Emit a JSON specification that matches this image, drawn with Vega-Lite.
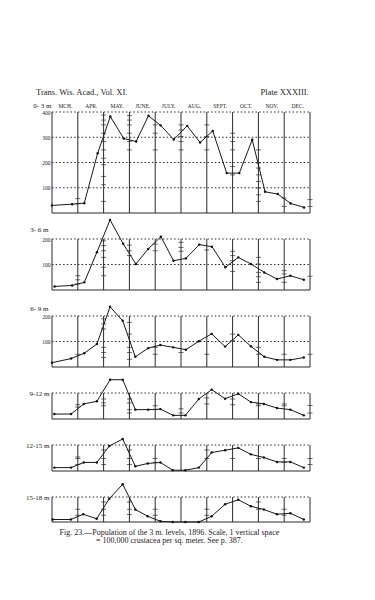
{
  "$schema": "https://vega.github.io/schema/vega-lite/v6.json",
  "background": "white",
  "padding": {"left": 25, "top": 88, "right": 5, "bottom": 5},
  "bounds": "flush",
  "spacing": 26,
  "config": {
    "view": {"stroke": null},
    "font": "Liberation Serif",
    "axis": {"labelFont": "Liberation Serif", "titleFont": "Liberation Serif", "labelColor": "#222", "titleColor": "#222", "domain": false, "ticks": false, "grid": false, "labelFlush": false},
    "axisY": {"labelFontSize": 5.5, "labelPadding": 2, "labelBaseline": "middle", "titleAngle": 0, "titleAlign": "right", "titleBaseline": "middle", "titleFontSize": 7, "titleFontWeight": "normal"},
    "axisX": {"labelFontSize": 5.5, "labelPadding": 4}
  },
  "resolve": {"scale": {"x": "independent", "y": "independent"}},
  "datasets": {
    "months": [{"m":0},{"m":1},{"m":2},{"m":3},{"m":4},{"m":5},{"m":6},{"m":7},{"m":8},{"m":9},{"m":10}],
    "levels": [
      {"depth":"0-3","level":0},{"depth":"0-3","level":100},{"depth":"0-3","level":200},{"depth":"0-3","level":300},{"depth":"0-3","level":400},
      {"depth":"3-6","level":0},{"depth":"3-6","level":100},{"depth":"3-6","level":200},
      {"depth":"6-9","level":0},{"depth":"6-9","level":100},{"depth":"6-9","level":200},
      {"depth":"9-12","level":0},{"depth":"9-12","level":100},
      {"depth":"12-15","level":0},{"depth":"12-15","level":100},
      {"depth":"15-18","level":0},{"depth":"15-18","level":100}
    ],
    "pop": [
      {"depth":"0-3","m":0,"v":30},{"depth":"0-3","m":0.78,"v":35},{"depth":"0-3","m":1.25,"v":39},{"depth":"0-3","m":1.77,"v":237},{"depth":"0-3","m":2.26,"v":382},{"depth":"0-3","m":2.78,"v":295},{"depth":"0-3","m":3.26,"v":283},{"depth":"0-3","m":3.74,"v":385},{"depth":"0-3","m":4.21,"v":347},{"depth":"0-3","m":4.72,"v":291},{"depth":"0-3","m":5.24,"v":345},{"depth":"0-3","m":5.74,"v":279},{"depth":"0-3","m":6.23,"v":325},{"depth":"0-3","m":6.77,"v":158},{"depth":"0-3","m":7.26,"v":158},{"depth":"0-3","m":7.76,"v":290},{"depth":"0-3","m":8.26,"v":84},{"depth":"0-3","m":8.75,"v":75},{"depth":"0-3","m":9.25,"v":38},{"depth":"0-3","m":9.77,"v":22},
      {"depth":"3-6","m":0.1,"v":14},{"depth":"3-6","m":0.78,"v":18},{"depth":"3-6","m":1.25,"v":30},{"depth":"3-6","m":1.74,"v":148},{"depth":"3-6","m":2.25,"v":275},{"depth":"3-6","m":2.76,"v":181},{"depth":"3-6","m":3.25,"v":102},{"depth":"3-6","m":3.73,"v":161},{"depth":"3-6","m":4.22,"v":209},{"depth":"3-6","m":4.71,"v":115},{"depth":"3-6","m":5.19,"v":124},{"depth":"3-6","m":5.71,"v":178},{"depth":"3-6","m":6.2,"v":170},{"depth":"3-6","m":6.72,"v":89},{"depth":"3-6","m":7.22,"v":128},{"depth":"3-6","m":7.71,"v":102},{"depth":"3-6","m":8.23,"v":69},{"depth":"3-6","m":8.72,"v":43},{"depth":"3-6","m":9.24,"v":56},{"depth":"3-6","m":9.76,"v":40},
      {"depth":"6-9","m":0,"v":17},{"depth":"6-9","m":0.74,"v":33},{"depth":"6-9","m":1.25,"v":54},{"depth":"6-9","m":1.74,"v":90},{"depth":"6-9","m":2.25,"v":236},{"depth":"6-9","m":2.74,"v":181},{"depth":"6-9","m":3.23,"v":40},{"depth":"6-9","m":3.73,"v":74},{"depth":"6-9","m":4.2,"v":86},{"depth":"6-9","m":4.7,"v":77},{"depth":"6-9","m":5.19,"v":68},{"depth":"6-9","m":5.69,"v":101},{"depth":"6-9","m":6.19,"v":130},{"depth":"6-9","m":6.71,"v":80},{"depth":"6-9","m":7.22,"v":126},{"depth":"6-9","m":7.71,"v":81},{"depth":"6-9","m":8.23,"v":40},{"depth":"6-9","m":8.72,"v":28},{"depth":"6-9","m":9.24,"v":28},{"depth":"6-9","m":9.76,"v":37},
      {"depth":"9-12","m":0.09,"v":19},{"depth":"9-12","m":0.74,"v":19},{"depth":"9-12","m":1.23,"v":58},{"depth":"9-12","m":1.74,"v":68},{"depth":"9-12","m":2.25,"v":151},{"depth":"9-12","m":2.74,"v":151},{"depth":"9-12","m":3.23,"v":36},{"depth":"9-12","m":3.73,"v":36},{"depth":"9-12","m":4.2,"v":38},{"depth":"9-12","m":4.7,"v":14},{"depth":"9-12","m":5.17,"v":14},{"depth":"9-12","m":5.69,"v":77},{"depth":"9-12","m":6.19,"v":113},{"depth":"9-12","m":6.71,"v":78},{"depth":"9-12","m":7.22,"v":97},{"depth":"9-12","m":7.71,"v":65},{"depth":"9-12","m":8.21,"v":58},{"depth":"9-12","m":8.72,"v":42},{"depth":"9-12","m":9.24,"v":36},{"depth":"9-12","m":9.76,"v":14},
      {"depth":"12-15","m":0.09,"v":13},{"depth":"12-15","m":0.74,"v":13},{"depth":"12-15","m":1.23,"v":33},{"depth":"12-15","m":1.74,"v":33},{"depth":"12-15","m":2.22,"v":96},{"depth":"12-15","m":2.74,"v":123},{"depth":"12-15","m":3.23,"v":18},{"depth":"12-15","m":3.71,"v":29},{"depth":"12-15","m":4.2,"v":33},{"depth":"12-15","m":4.68,"v":3},{"depth":"12-15","m":5.17,"v":3},{"depth":"12-15","m":5.69,"v":13},{"depth":"12-15","m":6.19,"v":71},{"depth":"12-15","m":6.71,"v":80},{"depth":"12-15","m":7.22,"v":89},{"depth":"12-15","m":7.71,"v":64},{"depth":"12-15","m":8.21,"v":52},{"depth":"12-15","m":8.72,"v":35},{"depth":"12-15","m":9.24,"v":35},{"depth":"12-15","m":9.76,"v":13},
      {"depth":"15-18","m":0.03,"v":10},{"depth":"15-18","m":0.73,"v":10},{"depth":"15-18","m":1.21,"v":31},{"depth":"15-18","m":1.73,"v":13},{"depth":"15-18","m":2.22,"v":93},{"depth":"15-18","m":2.74,"v":151},{"depth":"15-18","m":3.23,"v":50},{"depth":"15-18","m":3.71,"v":23},{"depth":"15-18","m":4.2,"v":3},{"depth":"15-18","m":4.68,"v":0},{"depth":"15-18","m":5.17,"v":0},{"depth":"15-18","m":5.69,"v":0},{"depth":"15-18","m":6.19,"v":23},{"depth":"15-18","m":6.71,"v":71},{"depth":"15-18","m":7.22,"v":89},{"depth":"15-18","m":7.71,"v":63},{"depth":"15-18","m":8.21,"v":50},{"depth":"15-18","m":8.72,"v":31},{"depth":"15-18","m":9.24,"v":35},{"depth":"15-18","m":9.76,"v":10}
    ],
    "ticks": [
      {"depth":"0-3","m":1,"v":57},{"depth":"0-3","m":1,"v":37},
      {"depth":"0-3","m":2,"v":388},{"depth":"0-3","m":2,"v":368},{"depth":"0-3","m":2,"v":349},{"depth":"0-3","m":2,"v":316},{"depth":"0-3","m":2,"v":283},{"depth":"0-3","m":2,"v":250},{"depth":"0-3","m":2,"v":217},{"depth":"0-3","m":2,"v":191},{"depth":"0-3","m":2,"v":145},{"depth":"0-3","m":2,"v":112},{"depth":"0-3","m":2,"v":46},
      {"depth":"0-3","m":3,"v":386},{"depth":"0-3","m":3,"v":368},{"depth":"0-3","m":3,"v":349},{"depth":"0-3","m":3,"v":316},{"depth":"0-3","m":3,"v":283},{"depth":"0-3","m":3,"v":250},
      {"depth":"0-3","m":4,"v":349},{"depth":"0-3","m":4,"v":316},{"depth":"0-3","m":4,"v":250},
      {"depth":"0-3","m":5,"v":349},{"depth":"0-3","m":5,"v":329},{"depth":"0-3","m":5,"v":303},{"depth":"0-3","m":5,"v":283},{"depth":"0-3","m":5,"v":250},
      {"depth":"0-3","m":6,"v":349},{"depth":"0-3","m":6,"v":303},{"depth":"0-3","m":6,"v":250},
      {"depth":"0-3","m":7,"v":316},{"depth":"0-3","m":7,"v":283},{"depth":"0-3","m":7,"v":250},{"depth":"0-3","m":7,"v":184},{"depth":"0-3","m":7,"v":151},
      {"depth":"0-3","m":8,"v":250},{"depth":"0-3","m":8,"v":198},{"depth":"0-3","m":8,"v":178},{"depth":"0-3","m":8,"v":151},{"depth":"0-3","m":8,"v":125},{"depth":"0-3","m":8,"v":99},{"depth":"0-3","m":8,"v":72},{"depth":"0-3","m":8,"v":46},
      {"depth":"0-3","m":9,"v":59},{"depth":"0-3","m":9,"v":26},
      {"depth":"0-3","m":10,"v":53},{"depth":"0-3","m":10,"v":26},
      {"depth":"3-6","m":1,"v":56},{"depth":"3-6","m":1,"v":40},{"depth":"3-6","m":1,"v":24},
      {"depth":"3-6","m":2,"v":193},{"depth":"3-6","m":2,"v":174},{"depth":"3-6","m":2,"v":154},{"depth":"3-6","m":2,"v":128},{"depth":"3-6","m":2,"v":89},{"depth":"3-6","m":2,"v":56},
      {"depth":"3-6","m":3,"v":176},{"depth":"3-6","m":3,"v":154},{"depth":"3-6","m":3,"v":135},
      {"depth":"3-6","m":4,"v":180},{"depth":"3-6","m":4,"v":154},
      {"depth":"3-6","m":5,"v":187},{"depth":"3-6","m":5,"v":167},{"depth":"3-6","m":5,"v":152},
      {"depth":"3-6","m":6,"v":157},
      {"depth":"3-6","m":7,"v":152},{"depth":"3-6","m":7,"v":135},{"depth":"3-6","m":7,"v":115},{"depth":"3-6","m":7,"v":73},
      {"depth":"3-6","m":8,"v":128},{"depth":"3-6","m":8,"v":102},{"depth":"3-6","m":8,"v":69},{"depth":"3-6","m":8,"v":52},{"depth":"3-6","m":8,"v":30},
      {"depth":"3-6","m":9,"v":76},{"depth":"3-6","m":9,"v":63},{"depth":"3-6","m":9,"v":30},
      {"depth":"3-6","m":10,"v":54},
      {"depth":"6-9","m":1,"v":50},
      {"depth":"6-9","m":2,"v":189},{"depth":"6-9","m":2,"v":169},{"depth":"6-9","m":2,"v":149},{"depth":"6-9","m":2,"v":77},{"depth":"6-9","m":2,"v":57},{"depth":"6-9","m":2,"v":37},
      {"depth":"6-9","m":3,"v":175},{"depth":"6-9","m":3,"v":129},{"depth":"6-9","m":3,"v":77},{"depth":"6-9","m":3,"v":57},{"depth":"6-9","m":3,"v":30},
      {"depth":"6-9","m":4,"v":77},{"depth":"6-9","m":4,"v":50},
      {"depth":"6-9","m":5,"v":57},
      {"depth":"6-9","m":6,"v":50},
      {"depth":"6-9","m":7,"v":129},{"depth":"6-9","m":7,"v":103},
      {"depth":"6-9","m":8,"v":77},{"depth":"6-9","m":8,"v":50},
      {"depth":"6-9","m":9,"v":50},
      {"depth":"6-9","m":10,"v":50},
      {"depth":"9-12","m":1,"v":55},{"depth":"9-12","m":1,"v":46},
      {"depth":"9-12","m":2,"v":77},{"depth":"9-12","m":2,"v":62},{"depth":"9-12","m":2,"v":51},
      {"depth":"9-12","m":3,"v":77},{"depth":"9-12","m":3,"v":62},{"depth":"9-12","m":3,"v":36},{"depth":"9-12","m":3,"v":23},
      {"depth":"9-12","m":4,"v":51},{"depth":"9-12","m":4,"v":36},
      {"depth":"9-12","m":5,"v":39},{"depth":"9-12","m":5,"v":23},
      {"depth":"9-12","m":6,"v":81},{"depth":"9-12","m":6,"v":58},
      {"depth":"9-12","m":7,"v":77},{"depth":"9-12","m":7,"v":55},
      {"depth":"9-12","m":8,"v":58},{"depth":"9-12","m":8,"v":51},
      {"depth":"9-12","m":9,"v":58},{"depth":"9-12","m":9,"v":51},
      {"depth":"9-12","m":10,"v":52},{"depth":"9-12","m":10,"v":23},
      {"depth":"12-15","m":1,"v":54},{"depth":"12-15","m":1,"v":48},{"depth":"12-15","m":1,"v":25},
      {"depth":"12-15","m":2,"v":81},{"depth":"12-15","m":2,"v":48},{"depth":"12-15","m":2,"v":25},
      {"depth":"12-15","m":3,"v":81},{"depth":"12-15","m":3,"v":48},{"depth":"12-15","m":3,"v":25},
      {"depth":"12-15","m":4,"v":48},{"depth":"12-15","m":4,"v":33},
      {"depth":"12-15","m":6,"v":81},{"depth":"12-15","m":6,"v":48},
      {"depth":"12-15","m":7,"v":48},
      {"depth":"12-15","m":8,"v":48},
      {"depth":"12-15","m":9,"v":48},{"depth":"12-15","m":9,"v":33},
      {"depth":"12-15","m":10,"v":48},{"depth":"12-15","m":10,"v":25},
      {"depth":"15-18","m":1,"v":51},{"depth":"15-18","m":1,"v":27},
      {"depth":"15-18","m":2,"v":80},{"depth":"15-18","m":2,"v":51},{"depth":"15-18","m":2,"v":27},
      {"depth":"15-18","m":3,"v":80},{"depth":"15-18","m":3,"v":51},{"depth":"15-18","m":3,"v":30},
      {"depth":"15-18","m":4,"v":51},{"depth":"15-18","m":4,"v":27},
      {"depth":"15-18","m":6,"v":51},{"depth":"15-18","m":6,"v":27},
      {"depth":"15-18","m":8,"v":80},{"depth":"15-18","m":8,"v":51},
      {"depth":"15-18","m":9,"v":51},{"depth":"15-18","m":9,"v":27}
    ]
  },
  "vconcat": [
    {
      "width": 258, "height": 101,
      "layer": [
        {"data": {"name": "levels"}, "transform": [{"filter": "datum.depth == '0-3'"}],
         "mark": {"type": "rule", "color": "#2a2a2a", "strokeWidth": 1},
         "encoding": {
           "y": {"field": "level", "type": "quantitative", "scale": {"domain": [0, 400], "nice": false},
                 "axis": {"values": [100, 200, 300, 400], "title": "0- 3 m", "titleX": -1, "titleY": -7}},
           "x": {"datum": 0, "axis": {"orient": "top", "values": [0.5, 1.5, 2.5, 3.5, 4.5, 5.5, 6.5, 7.5, 8.5, 9.5], "labelExpr": "['MCH.','APR.','MAY.','JUNE.','JULY.','AUG.','SEPT.','OCT.','NOV.','DEC.'][floor(datum.value)]", "title": null}},
           "x2": {"datum": 10},
           "strokeDash": {"condition": {"test": "datum.level == 0", "value": [1, 0]}, "value": [1.5, 2.2]}
         }},
        {"data": {"name": "months"},
         "mark": {"type": "rule", "color": "#2a2a2a", "strokeWidth": 1},
         "encoding": {
           "x": {"field": "m", "type": "quantitative", "scale": {"domain": [0, 10], "nice": false, "zero": false},
                 "axis": {"orient": "top", "values": [0.5, 1.5, 2.5, 3.5, 4.5, 5.5, 6.5, 7.5, 8.5, 9.5], "labelExpr": "['MCH.','APR.','MAY.','JUNE.','JULY.','AUG.','SEPT.','OCT.','NOV.','DEC.'][floor(datum.value)]", "title": null}},
           "y": {"datum": 0, "axis": {"values": [100, 200, 300, 400], "title": "0- 3 m", "titleX": -1, "titleY": -7}},
           "y2": {"datum": 400}
         }},
        {"data": {"name": "ticks"}, "transform": [{"filter": "datum.depth == '0-3'"}],
         "mark": {"type": "tick", "orient": "horizontal", "size": 5, "thickness": 1, "color": "#2a2a2a"},
         "encoding": {
           "x": {"field": "m", "type": "quantitative", "axis": {"orient": "top", "values": [0.5, 1.5, 2.5, 3.5, 4.5, 5.5, 6.5, 7.5, 8.5, 9.5], "labelExpr": "['MCH.','APR.','MAY.','JUNE.','JULY.','AUG.','SEPT.','OCT.','NOV.','DEC.'][floor(datum.value)]", "title": null}},
           "y": {"field": "v", "type": "quantitative", "axis": {"values": [100, 200, 300, 400], "title": "0- 3 m", "titleX": -1, "titleY": -7}}}},
        {"data": {"name": "pop"}, "transform": [{"filter": "datum.depth == '0-3'"}],
         "mark": {"type": "line", "color": "#1a1a1a", "strokeWidth": 1},
         "encoding": {
           "x": {"field": "m", "type": "quantitative", "axis": {"orient": "top", "values": [0.5, 1.5, 2.5, 3.5, 4.5, 5.5, 6.5, 7.5, 8.5, 9.5], "labelExpr": "['MCH.','APR.','MAY.','JUNE.','JULY.','AUG.','SEPT.','OCT.','NOV.','DEC.'][floor(datum.value)]", "title": null}},
           "y": {"field": "v", "type": "quantitative", "axis": {"values": [100, 200, 300, 400], "title": "0- 3 m", "titleX": -1, "titleY": -7}}}},
        {"data": {"name": "pop"}, "transform": [{"filter": "datum.depth == '0-3'"}],
         "mark": {"type": "point", "filled": true, "size": 6, "color": "#111", "opacity": 1},
         "encoding": {
           "x": {"field": "m", "type": "quantitative", "axis": {"orient": "top", "values": [0.5, 1.5, 2.5, 3.5, 4.5, 5.5, 6.5, 7.5, 8.5, 9.5], "labelExpr": "['MCH.','APR.','MAY.','JUNE.','JULY.','AUG.','SEPT.','OCT.','NOV.','DEC.'][floor(datum.value)]", "title": null}},
           "y": {"field": "v", "type": "quantitative", "axis": {"values": [100, 200, 300, 400], "title": "0- 3 m", "titleX": -1, "titleY": -7}}}},
        {"data": {"values": [{}]},
         "mark": {"type": "text", "text": "Trans. Wis. Acad., Vol. XI.", "align": "left", "baseline": "middle", "fontSize": 8.5, "color": "#222"},
         "encoding": {
           "x": {"datum": -0.62, "axis": {"orient": "top", "values": [0.5, 1.5, 2.5, 3.5, 4.5, 5.5, 6.5, 7.5, 8.5, 9.5], "labelExpr": "['MCH.','APR.','MAY.','JUNE.','JULY.','AUG.','SEPT.','OCT.','NOV.','DEC.'][floor(datum.value)]", "title": null}},
           "y": {"datum": 478, "axis": {"values": [100, 200, 300, 400], "title": "0- 3 m", "titleX": -1, "titleY": -7}}}},
        {"data": {"values": [{}]},
         "mark": {"type": "text", "text": "Plate XXXIII.", "align": "right", "baseline": "middle", "fontSize": 8.5, "color": "#222"},
         "encoding": {
           "x": {"datum": 9.95, "axis": {"orient": "top", "values": [0.5, 1.5, 2.5, 3.5, 4.5, 5.5, 6.5, 7.5, 8.5, 9.5], "labelExpr": "['MCH.','APR.','MAY.','JUNE.','JULY.','AUG.','SEPT.','OCT.','NOV.','DEC.'][floor(datum.value)]", "title": null}},
           "y": {"datum": 478, "axis": {"values": [100, 200, 300, 400], "title": "0- 3 m", "titleX": -1, "titleY": -7}}}}
      ]
    },
    {
      "width": 258, "height": 51,
      "layer": [
        {"data": {"name": "levels"}, "transform": [{"filter": "datum.depth == '3-6'"}],
         "mark": {"type": "rule", "color": "#2a2a2a", "strokeWidth": 1},
         "encoding": {
           "y": {"field": "level", "type": "quantitative", "scale": {"domain": [0, 200], "nice": false},
                 "axis": {"values": [100, 200], "title": "3- 6 m", "titleX": -4, "titleY": -10}},
           "x": {"datum": 0, "axis": null}, "x2": {"datum": 10},
           "strokeDash": {"condition": {"test": "datum.level == 0", "value": [1, 0]}, "value": [1.5, 2.2]}
         }},
        {"data": {"name": "months"},
         "mark": {"type": "rule", "color": "#2a2a2a", "strokeWidth": 1},
         "encoding": {
           "x": {"field": "m", "type": "quantitative", "scale": {"domain": [0, 10], "nice": false, "zero": false}, "axis": null},
           "y": {"datum": 0, "axis": {"values": [100, 200], "title": "3- 6 m", "titleX": -4, "titleY": -10}},
           "y2": {"datum": 200}
         }},
        {"data": {"name": "ticks"}, "transform": [{"filter": "datum.depth == '3-6'"}],
         "mark": {"type": "tick", "orient": "horizontal", "size": 5, "thickness": 1, "color": "#2a2a2a"},
         "encoding": {"x": {"field": "m", "type": "quantitative", "axis": null},
                      "y": {"field": "v", "type": "quantitative", "axis": {"values": [100, 200], "title": "3- 6 m", "titleX": -4, "titleY": -10}}}},
        {"data": {"name": "pop"}, "transform": [{"filter": "datum.depth == '3-6'"}],
         "mark": {"type": "line", "color": "#1a1a1a", "strokeWidth": 1},
         "encoding": {"x": {"field": "m", "type": "quantitative", "axis": null},
                      "y": {"field": "v", "type": "quantitative", "axis": {"values": [100, 200], "title": "3- 6 m", "titleX": -4, "titleY": -10}}}},
        {"data": {"name": "pop"}, "transform": [{"filter": "datum.depth == '3-6'"}],
         "mark": {"type": "point", "filled": true, "size": 6, "color": "#111", "opacity": 1},
         "encoding": {"x": {"field": "m", "type": "quantitative", "axis": null},
                      "y": {"field": "v", "type": "quantitative", "axis": {"values": [100, 200], "title": "3- 6 m", "titleX": -4, "titleY": -10}}}}
      ]
    },
    {
      "width": 258, "height": 51,
      "layer": [
        {"data": {"name": "levels"}, "transform": [{"filter": "datum.depth == '6-9'"}],
         "mark": {"type": "rule", "color": "#2a2a2a", "strokeWidth": 1},
         "encoding": {
           "y": {"field": "level", "type": "quantitative", "scale": {"domain": [0, 200], "nice": false},
                 "axis": {"values": [100, 200], "title": "6- 9 m", "titleX": -4, "titleY": -8}},
           "x": {"datum": 0, "axis": null}, "x2": {"datum": 10},
           "strokeDash": {"condition": {"test": "datum.level == 0", "value": [1, 0]}, "value": [1.5, 2.2]}
         }},
        {"data": {"name": "months"},
         "mark": {"type": "rule", "color": "#2a2a2a", "strokeWidth": 1},
         "encoding": {
           "x": {"field": "m", "type": "quantitative", "scale": {"domain": [0, 10], "nice": false, "zero": false}, "axis": null},
           "y": {"datum": 0, "axis": {"values": [100, 200], "title": "6- 9 m", "titleX": -4, "titleY": -8}},
           "y2": {"datum": 200}
         }},
        {"data": {"name": "ticks"}, "transform": [{"filter": "datum.depth == '6-9'"}],
         "mark": {"type": "tick", "orient": "horizontal", "size": 5, "thickness": 1, "color": "#2a2a2a"},
         "encoding": {"x": {"field": "m", "type": "quantitative", "axis": null},
                      "y": {"field": "v", "type": "quantitative", "axis": {"values": [100, 200], "title": "6- 9 m", "titleX": -4, "titleY": -8}}}},
        {"data": {"name": "pop"}, "transform": [{"filter": "datum.depth == '6-9'"}],
         "mark": {"type": "line", "color": "#1a1a1a", "strokeWidth": 1},
         "encoding": {"x": {"field": "m", "type": "quantitative", "axis": null},
                      "y": {"field": "v", "type": "quantitative", "axis": {"values": [100, 200], "title": "6- 9 m", "titleX": -4, "titleY": -8}}}},
        {"data": {"name": "pop"}, "transform": [{"filter": "datum.depth == '6-9'"}],
         "mark": {"type": "point", "filled": true, "size": 6, "color": "#111", "opacity": 1},
         "encoding": {"x": {"field": "m", "type": "quantitative", "axis": null},
                      "y": {"field": "v", "type": "quantitative", "axis": {"values": [100, 200], "title": "6- 9 m", "titleX": -4, "titleY": -8}}}}
      ]
    },
    {
      "width": 258, "height": 26,
      "layer": [
        {"data": {"name": "levels"}, "transform": [{"filter": "datum.depth == '9-12'"}],
         "mark": {"type": "rule", "color": "#2a2a2a", "strokeWidth": 1},
         "encoding": {
           "y": {"field": "level", "type": "quantitative", "scale": {"domain": [0, 100], "nice": false},
                 "axis": {"values": [100], "labelExpr": "'9-12 m'", "labelFontSize": 7, "labelPadding": 3, "title": null}},
           "x": {"datum": 0, "axis": null}, "x2": {"datum": 10},
           "strokeDash": {"condition": {"test": "datum.level == 0", "value": [1, 0]}, "value": [1.5, 2.2]}
         }},
        {"data": {"name": "months"},
         "mark": {"type": "rule", "color": "#2a2a2a", "strokeWidth": 1},
         "encoding": {
           "x": {"field": "m", "type": "quantitative", "scale": {"domain": [0, 10], "nice": false, "zero": false}, "axis": null},
           "y": {"datum": 0, "axis": {"values": [100], "labelExpr": "'9-12 m'", "labelFontSize": 7, "labelPadding": 3, "title": null}},
           "y2": {"datum": 100}
         }},
        {"data": {"name": "ticks"}, "transform": [{"filter": "datum.depth == '9-12'"}],
         "mark": {"type": "tick", "orient": "horizontal", "size": 5, "thickness": 1, "color": "#2a2a2a"},
         "encoding": {"x": {"field": "m", "type": "quantitative", "axis": null},
                      "y": {"field": "v", "type": "quantitative", "axis": {"values": [100], "labelExpr": "'9-12 m'", "labelFontSize": 7, "labelPadding": 3, "title": null}}}},
        {"data": {"name": "pop"}, "transform": [{"filter": "datum.depth == '9-12'"}],
         "mark": {"type": "line", "color": "#1a1a1a", "strokeWidth": 1},
         "encoding": {"x": {"field": "m", "type": "quantitative", "axis": null},
                      "y": {"field": "v", "type": "quantitative", "axis": {"values": [100], "labelExpr": "'9-12 m'", "labelFontSize": 7, "labelPadding": 3, "title": null}}}},
        {"data": {"name": "pop"}, "transform": [{"filter": "datum.depth == '9-12'"}],
         "mark": {"type": "point", "filled": true, "size": 6, "color": "#111", "opacity": 1},
         "encoding": {"x": {"field": "m", "type": "quantitative", "axis": null},
                      "y": {"field": "v", "type": "quantitative", "axis": {"values": [100], "labelExpr": "'9-12 m'", "labelFontSize": 7, "labelPadding": 3, "title": null}}}}
      ]
    },
    {
      "width": 258, "height": 26,
      "layer": [
        {"data": {"name": "levels"}, "transform": [{"filter": "datum.depth == '12-15'"}],
         "mark": {"type": "rule", "color": "#2a2a2a", "strokeWidth": 1},
         "encoding": {
           "y": {"field": "level", "type": "quantitative", "scale": {"domain": [0, 100], "nice": false},
                 "axis": {"values": [100], "labelExpr": "'12-15 m'", "labelFontSize": 7, "labelPadding": 3, "title": null}},
           "x": {"datum": 0, "axis": null}, "x2": {"datum": 10},
           "strokeDash": {"condition": {"test": "datum.level == 0", "value": [1, 0]}, "value": [1.5, 2.2]}
         }},
        {"data": {"name": "months"},
         "mark": {"type": "rule", "color": "#2a2a2a", "strokeWidth": 1},
         "encoding": {
           "x": {"field": "m", "type": "quantitative", "scale": {"domain": [0, 10], "nice": false, "zero": false}, "axis": null},
           "y": {"datum": 0, "axis": {"values": [100], "labelExpr": "'12-15 m'", "labelFontSize": 7, "labelPadding": 3, "title": null}},
           "y2": {"datum": 100}
         }},
        {"data": {"name": "ticks"}, "transform": [{"filter": "datum.depth == '12-15'"}],
         "mark": {"type": "tick", "orient": "horizontal", "size": 5, "thickness": 1, "color": "#2a2a2a"},
         "encoding": {"x": {"field": "m", "type": "quantitative", "axis": null},
                      "y": {"field": "v", "type": "quantitative", "axis": {"values": [100], "labelExpr": "'12-15 m'", "labelFontSize": 7, "labelPadding": 3, "title": null}}}},
        {"data": {"name": "pop"}, "transform": [{"filter": "datum.depth == '12-15'"}],
         "mark": {"type": "line", "color": "#1a1a1a", "strokeWidth": 1},
         "encoding": {"x": {"field": "m", "type": "quantitative", "axis": null},
                      "y": {"field": "v", "type": "quantitative", "axis": {"values": [100], "labelExpr": "'12-15 m'", "labelFontSize": 7, "labelPadding": 3, "title": null}}}},
        {"data": {"name": "pop"}, "transform": [{"filter": "datum.depth == '12-15'"}],
         "mark": {"type": "point", "filled": true, "size": 6, "color": "#111", "opacity": 1},
         "encoding": {"x": {"field": "m", "type": "quantitative", "axis": null},
                      "y": {"field": "v", "type": "quantitative", "axis": {"values": [100], "labelExpr": "'12-15 m'", "labelFontSize": 7, "labelPadding": 3, "title": null}}}}
      ]
    },
    {
      "width": 258, "height": 25,
      "layer": [
        {"data": {"name": "levels"}, "transform": [{"filter": "datum.depth == '15-18'"}],
         "mark": {"type": "rule", "color": "#2a2a2a", "strokeWidth": 1},
         "encoding": {
           "y": {"field": "level", "type": "quantitative", "scale": {"domain": [0, 100], "nice": false},
                 "axis": {"values": [100], "labelExpr": "'15-18 m'", "labelFontSize": 7, "labelPadding": 3, "title": null}},
           "x": {"datum": 0, "axis": null}, "x2": {"datum": 10},
           "strokeDash": {"condition": {"test": "datum.level == 0", "value": [1, 0]}, "value": [1.5, 2.2]}
         }},
        {"data": {"name": "months"},
         "mark": {"type": "rule", "color": "#2a2a2a", "strokeWidth": 1},
         "encoding": {
           "x": {"field": "m", "type": "quantitative", "scale": {"domain": [0, 10], "nice": false, "zero": false}, "axis": null},
           "y": {"datum": 0, "axis": {"values": [100], "labelExpr": "'15-18 m'", "labelFontSize": 7, "labelPadding": 3, "title": null}},
           "y2": {"datum": 100}
         }},
        {"data": {"name": "ticks"}, "transform": [{"filter": "datum.depth == '15-18'"}],
         "mark": {"type": "tick", "orient": "horizontal", "size": 5, "thickness": 1, "color": "#2a2a2a"},
         "encoding": {"x": {"field": "m", "type": "quantitative", "axis": null},
                      "y": {"field": "v", "type": "quantitative", "axis": {"values": [100], "labelExpr": "'15-18 m'", "labelFontSize": 7, "labelPadding": 3, "title": null}}}},
        {"data": {"name": "pop"}, "transform": [{"filter": "datum.depth == '15-18'"}],
         "mark": {"type": "line", "color": "#1a1a1a", "strokeWidth": 1},
         "encoding": {"x": {"field": "m", "type": "quantitative", "axis": null},
                      "y": {"field": "v", "type": "quantitative", "axis": {"values": [100], "labelExpr": "'15-18 m'", "labelFontSize": 7, "labelPadding": 3, "title": null}}}},
        {"data": {"name": "pop"}, "transform": [{"filter": "datum.depth == '15-18'"}],
         "mark": {"type": "point", "filled": true, "size": 6, "color": "#111", "opacity": 1},
         "encoding": {"x": {"field": "m", "type": "quantitative", "axis": null},
                      "y": {"field": "v", "type": "quantitative", "axis": {"values": [100], "labelExpr": "'15-18 m'", "labelFontSize": 7, "labelPadding": 3, "title": null}}}},
        {"data": {"values": [{}]},
         "mark": {"type": "text", "text": "Fig. 23.—Population of the 3 m. levels, 1896.  Scale, 1 vertical space", "align": "center", "baseline": "middle", "fontSize": 8, "color": "#222"},
         "encoding": {"x": {"datum": 4.55, "axis": null},
                      "y": {"datum": -45, "axis": {"values": [100], "labelExpr": "'15-18 m'", "labelFontSize": 7, "labelPadding": 3, "title": null}}}},
        {"data": {"values": [{}]},
         "mark": {"type": "text", "text": "= 100,000 crustacea per sq. meter.   See p. 387.", "align": "center", "baseline": "middle", "fontSize": 8, "color": "#222"},
         "encoding": {"x": {"datum": 4.55, "axis": null},
                      "y": {"datum": -76, "axis": {"values": [100], "labelExpr": "'15-18 m'", "labelFontSize": 7, "labelPadding": 3, "title": null}}}}
      ]
    }
  ]
}
